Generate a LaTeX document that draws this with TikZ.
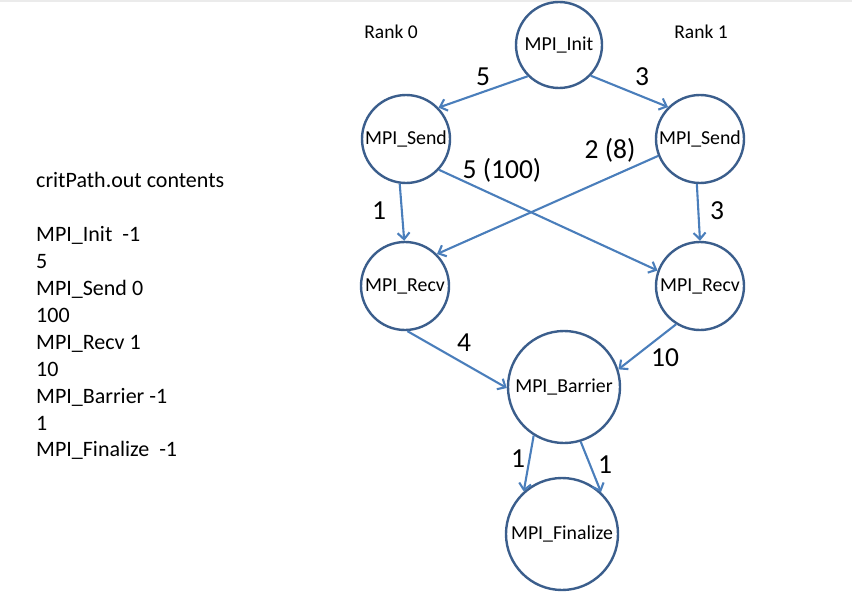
\documentclass[tikz,border=0pt]{standalone}
\usepackage{fontspec}
\setmainfont{Carlito}
\usetikzlibrary{arrows.meta}
\definecolor{ring}{HTML}{3B5E8C}
\definecolor{edge}{HTML}{4A7EBB}
\begin{document}
\begin{tikzpicture}[x=1pt,y=-1pt,
  fn/.style={circle,draw=ring,line width=2.4pt,inner sep=0pt,minimum size=#1,
    font=\fontsize{19.8}{21}\selectfont},
  fn/.default=88pt,
  arr/.style={draw=edge,line width=2.1pt,-{Straight Barb[length=6.5pt,width=12pt,line width=2.1pt]}},
  lab/.style={font=\fontsize{27.5}{29}\selectfont},
  rank/.style={font=\fontsize{19.5}{21}\selectfont},
  ln/.style={font=\fontsize{22}{26}\selectfont,anchor=base west,inner sep=0pt}]
\useasboundingbox (0,0) rectangle (852,602);
\fill[black!8] (0,0) rectangle (852,2.5);
% nodes
\node[fn=86pt] (init) at (559,45) {MPI\_Init};
\node[fn] (sendL) at (406,139) {MPI\_Send};
\node[fn] (sendR) at (700,139) {MPI\_Send};
\node[fn] (recvL) at (405,286) {MPI\_Recv};
\node[fn] (recvR) at (700,286) {MPI\_Recv};
\node[fn=112pt] (bar) at (564,387) {MPI\_Barrier};
\node[fn=112pt] (fin) at (562,534) {MPI\_Finalize};
\node[rank] (r0) at (391,32) {Rank 0};
\node[rank] (r1) at (701,32) {Rank 1};
% edges
\draw[arr] (init.225) -- (sendL.44);
\draw[arr] (init.316) -- (sendR.135);
\draw[arr] (sendL.317) -- (recvR.160);
\draw[arr] (sendR.202) -- (recvL.45);
\draw[arr] (sendL.262) -- (recvL.91);
\draw[arr] (sendR.266) -- (recvR.90);
\draw[arr] (recvL.273) -- (bar.181);
\draw[arr] (recvR.238) -- (bar.18);
\draw[arr] (bar.238) -- (fin.132);
\draw[arr] (bar.287) -- (fin.47);
% edge labels
\node[lab] (l1) at (483,77) {5};
\node[lab] (l2) at (642,77) {3};
\node[lab] (l3) at (502,170) {5 (100)};
\node[lab] (l4) at (610,150) {2 (8)};
\node[lab] (l5) at (379,211) {1};
\node[lab] (l6) at (717,211) {3};
\node[lab] (l7) at (464,343) {4};
\node[lab] (l8) at (665,358) {10};
\node[lab] (l9) at (518,459) {1};
\node[lab] (l10) at (605,465) {1};
% listing
\node[ln] (t0) at (36,187) {critPath.out contents};
\node[ln] (t1) at (36,241.7) {MPI\_Init\ \ -1};
\node[ln] (t2) at (36,268.6) {5};
\node[ln] (t3) at (36,295.5) {MPI\_Send 0};
\node[ln] (t4) at (36,322.4) {100};
\node[ln] (t5) at (36,349.3) {MPI\_Recv 1};
\node[ln] (t6) at (36,376.2) {10};
\node[ln] (t7) at (36,403.1) {MPI\_Barrier -1};
\node[ln] (t8) at (36,430) {1};
\node[ln] (t9) at (36,456.9) {MPI\_Finalize\ \ -1};
\end{tikzpicture}
\end{document}
